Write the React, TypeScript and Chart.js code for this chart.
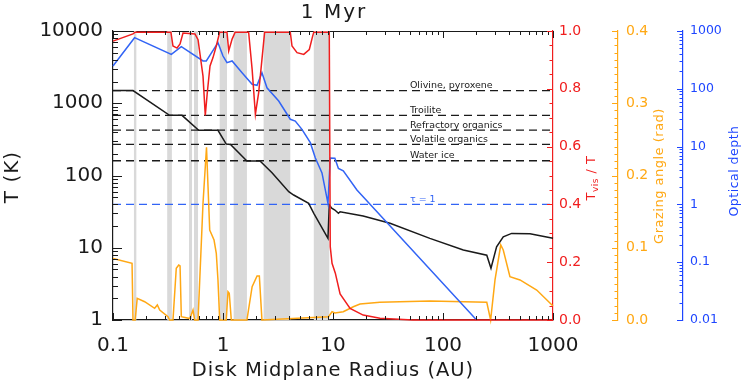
import { useEffect, useRef } from "react";
import { Chart, registerables } from "chart.js";

Chart.register(...registerables);

const FONT = "'DejaVu Sans', 'Liberation Sans', sans-serif";
const RED = "rgb(240, 30, 30)";
const ORANGE = "rgb(255, 168, 20)";
const BLUE = "rgb(50, 100, 245)";
const BLUE_AXIS = "rgb(30, 70, 255)";
const BAND = "#d9d9d9";
const INK = "#1a1a1a";

// Midplane temperature (K)
const tempRadius = [0.1, 0.152, 0.327, 0.424, 0.601, 0.9, 1.07, 1.17, 1.65, 2.17, 2.79, 3.96, 4.39, 6.01, 6.69, 9.0, 9.25, 9.73, 10.4, 11.2, 11.6, 18.8, 33, 76, 153, 250, 273, 307, 353, 421, 618, 1000];
const tempKelvin = [1500, 1500, 680, 680, 423, 423, 272, 268, 159, 159, 109, 59.7, 53.7, 41.2, 30.0, 13.5, 39.1, 35.2, 33.3, 30.0, 31.5, 27.5, 21.8, 13.5, 9.3, 7.9, 5.2, 10.3, 14.2, 15.8, 15.6, 13.5];

// Visible-to-midplane temperature ratio
const ratioRadius = [0.1, 0.152, 0.159, 0.336, 0.351, 0.382, 0.407, 0.433, 0.556, 0.593, 0.658, 0.69, 0.72, 0.762, 0.811, 0.869, 0.933, 1.087, 1.127, 1.21, 1.29, 1.71, 1.84, 1.97, 2.11, 2.26, 2.39, 4.09, 4.24, 4.71, 5.42, 6.09, 6.54, 6.69, 9.25, 9.44, 9.8, 10.5, 11.6, 14.3, 18.8, 26.7, 53, 1000];
const ratioValue = [0.965, 0.99, 0.996, 0.996, 0.948, 0.941, 0.955, 0.993, 0.99, 0.97, 0.844, 0.708, 0.787, 0.879, 0.908, 0.948, 0.996, 0.996, 0.931, 0.972, 0.996, 0.996, 0.867, 0.712, 0.787, 0.902, 0.996, 0.996, 0.948, 0.925, 0.919, 0.936, 0.983, 0.996, 0.996, 0.254, 0.196, 0.162, 0.09, 0.04, 0.017, 0.006, 0, 0];

// Grazing angle (rad)
const grazeRadius = [0.1, 0.149, 0.152, 0.159, 0.166, 0.194, 0.239, 0.253, 0.266, 0.316, 0.327, 0.351, 0.376, 0.396, 0.407, 0.418, 0.5, 0.534, 0.553, 0.593, 0.658, 0.708, 0.731, 0.757, 0.829, 0.869, 0.9, 0.933, 1.07, 1.11, 1.14, 1.19, 1.65, 1.84, 2.04, 2.14, 2.26, 9.1, 9.8, 10.4, 12.4, 15.3, 17.6, 26.7, 76, 250, 271, 297, 335, 353, 406, 501, 711, 1000];
const grazeAngle = [0.085, 0.0785, 0, 0, 0.03, 0.0253, 0.0162, 0.0208, 0.0138, 0.0046, 0, 0, 0.0716, 0.0761, 0.075, 0.0046, 0.002, 0.0138, 0, 0, 0.1615, 0.239, 0.1845, 0.1246, 0.1107, 0.0923, 0.0554, 0, 0, 0.0392, 0.037, 0, 0, 0.0461, 0.0609, 0.0609, 0, 0.0046, 0.0115, 0.0097, 0.0115, 0.0184, 0.0221, 0.0245, 0.0263, 0.0245, 0, 0.0554, 0.1038, 0.0969, 0.0599, 0.0554, 0.0415, 0.0194];

// Radial optical depth
const depthRadius = [0.1, 0.157, 0.339, 0.418, 0.658, 0.705, 0.9, 1.0, 1.087, 1.21, 1.49, 1.84, 2.04, 2.26, 2.51, 3.21, 4.09, 4.54, 5.22, 6.22, 6.9, 7.94, 9.0, 9.44, 10.4, 11.2, 12.4, 16.5, 31.8, 202];
const depthValue = [248, 766, 395, 535, 303, 303, 628, 369, 283, 303, 190, 120, 115, 190, 104, 61.5, 29.7, 27.7, 19.9, 11.7, 6.4, 3.5, 1.04, 6.35, 6.3, 4.2, 3.8, 1.78, 0.46, 0.01];

// Condensation fronts
const frontTemps = [1500, 680, 425, 270, 160];
const frontNames = ["Olivine, pyroxene", "Troilite", "Refractory organics", "Volatile organics", "Water ice"];
const frontLabelRadius = 50;

// Shaded radial bands (AU)
const bandStart = [0.155, 0.311, 0.491, 0.545, 0.933, 1.25, 2.34, 6.69];
const bandEnd = [0.163, 0.343, 0.523, 0.593, 1.087, 1.65, 4.09, 9.25];

// Axis ticks
const xTicks = [0.1, 1, 10, 100, 1000];
const xTickLabels = ["0.1", "1", "10", "100", "1000"];
const tempTicks = [1, 10, 100, 1000, 10000];
const tempTickLabels = ["1", "10", "100", "1000", "10000"];
const ratioTicks = [0, 0.2, 0.4, 0.6, 0.8, 1.0];
const ratioTickLabels = ["0.0", "0.2", "0.4", "0.6", "0.8", "1.0"];
const grazeTicks = [0, 0.1, 0.2, 0.3, 0.4];
const grazeTickLabels = ["0.0", "0.1", "0.2", "0.3", "0.4"];
const depthTicks = [0.01, 0.1, 1, 10, 100, 1000];
const depthTickLabels = ["0.01", "0.1", "1", "10", "100", "1000"];

const toPoints = (xs: number[], ys: number[]) => xs.map((x, i) => ({ x, y: ys[i] }));

const logMinor = (min: number, max: number) => {
  const out: number[] = [];
  for (let e = Math.floor(Math.log10(min)); e < Math.ceil(Math.log10(max)); e++) {
    for (let k = 2; k <= 9; k++) {
      const v = k * Math.pow(10, e);
      if (v > min && v < max) out.push(v);
    }
  }
  return out;
};
const linSteps = (min: number, max: number, step: number) => {
  const out: number[] = [];
  const n = Math.round((max - min) / step);
  for (let i = 0; i <= n; i++) out.push(min + i * step);
  return out;
};

function yTicksAt(ctx: CanvasRenderingContext2D, scale: any, values: number[], x0: number, len: number) {
  values.forEach((v) => {
    const y = Math.round(scale.getPixelForValue(v)) + 0.5;
    ctx.beginPath();
    ctx.moveTo(x0, y);
    ctx.lineTo(x0 + len, y);
    ctx.stroke();
  });
}
function xTicksAt(ctx: CanvasRenderingContext2D, scale: any, values: number[], y0: number, len: number) {
  values.forEach((v) => {
    const x = Math.round(scale.getPixelForValue(v)) + 0.5;
    ctx.beginPath();
    ctx.moveTo(x, y0);
    ctx.lineTo(x, y0 + len);
    ctx.stroke();
  });
}

type Part = { text: string; size: number; dy: number };
function verticalText(ctx: CanvasRenderingContext2D, parts: Part[], cx: number, cy: number, color: string, spacing = 0) {
  ctx.save();
  ctx.translate(cx, cy);
  ctx.rotate(-Math.PI / 2);
  ctx.fillStyle = color;
  ctx.textBaseline = "middle";
  ctx.textAlign = "left";
  (ctx as any).letterSpacing = `${spacing}px`;
  const widths = parts.map((p) => {
    ctx.font = `${p.size}px ${FONT}`;
    return ctx.measureText(p.text).width;
  });
  let x = -widths.reduce((a, b) => a + b, 0) / 2;
  parts.forEach((p, i) => {
    ctx.font = `${p.size}px ${FONT}`;
    ctx.fillText(p.text, x, p.dy);
    x += widths[i];
  });
  ctx.restore();
}

const decor = {
  id: "decor",
  beforeDraw(chart: any) {
    const { ctx, chartArea: a } = chart;
    if (!a) return;
    ctx.save();
    ctx.strokeStyle = INK;
    ctx.lineWidth = 1.2;
    ctx.beginPath();
    ctx.moveTo(a.left, Math.round(a.top) + 0.5);
    ctx.lineTo(a.right, Math.round(a.top) + 0.5);
    ctx.stroke();
    ctx.restore();
  },
  beforeDatasetsDraw(chart: any) {
    const { ctx, chartArea: a, scales } = chart;
    const { x, yT, yD } = scales;
    ctx.save();
    ctx.fillStyle = BAND;
    bandStart.forEach((s, i) => {
      const x1 = x.getPixelForValue(s);
      const x2 = x.getPixelForValue(bandEnd[i]);
      ctx.fillRect(x1, a.top, x2 - x1, a.bottom - a.top);
    });
    ctx.lineWidth = 1.3;
    ctx.setLineDash([8, 5]);
    ctx.strokeStyle = INK;
    frontTemps.forEach((t) => {
      const y = yT.getPixelForValue(t);
      ctx.beginPath();
      ctx.moveTo(a.left, y);
      ctx.lineTo(a.right, y);
      ctx.stroke();
    });
    ctx.strokeStyle = BLUE;
    const yTau = yD.getPixelForValue(1);
    ctx.beginPath();
    ctx.moveTo(a.left, yTau);
    ctx.lineTo(a.right, yTau);
    ctx.stroke();
    ctx.setLineDash([]);

    const lx = x.getPixelForValue(frontLabelRadius);
    ctx.font = `9.5px ${FONT}`;
    ctx.textAlign = "left";
    ctx.textBaseline = "alphabetic";
    ctx.fillStyle = INK;
    frontTemps.forEach((t, i) => ctx.fillText(frontNames[i], lx, yT.getPixelForValue(t) - 2.5));
    ctx.fillStyle = BLUE;
    ctx.fillText("\u03c4 = 1", lx, yTau - 2.5);
    ctx.restore();
  },
  afterDatasetsDraw(chart: any) {
    const { ctx, chartArea: a, scales } = chart;
    const { x, yT, yR, yG, yD } = scales;
    ctx.save();
    ctx.lineWidth = 1;
    // frame ticks, pointing into the plot
    ctx.strokeStyle = INK;
    yTicksAt(ctx, yT, tempTicks, a.left, 9);
    yTicksAt(ctx, yT, logMinor(1, 10000), a.left, 5);
    xTicksAt(ctx, x, xTicks, a.bottom, -7);
    xTicksAt(ctx, x, logMinor(0.1, 1000), a.bottom, -4);
    xTicksAt(ctx, x, xTicks, a.top, 7);
    xTicksAt(ctx, x, logMinor(0.1, 1000), a.top, 4);
    // coloured axes
    ctx.strokeStyle = RED;
    yTicksAt(ctx, yR, ratioTicks, yR.left, -6);
    yTicksAt(ctx, yR, linSteps(0, 1, 0.05), yR.left, -3.5);
    ctx.strokeStyle = ORANGE;
    yTicksAt(ctx, yG, grazeTicks, yG.left, -6);
    yTicksAt(ctx, yG, linSteps(0, 0.4, 0.01), yG.left, -3.5);
    ctx.strokeStyle = BLUE_AXIS;
    yTicksAt(ctx, yD, depthTicks, yD.left, -6);
    yTicksAt(ctx, yD, logMinor(0.01, 1000), yD.left, -3.5);
    ctx.restore();
  },
  afterDraw(chart: any) {
    const { ctx, chartArea: a } = chart;
    ctx.save();
    ctx.fillStyle = INK;
    ctx.textAlign = "center";
    ctx.textBaseline = "middle";
    (ctx as any).letterSpacing = "2px";
    ctx.font = `20px ${FONT}`;
    ctx.fillText("1 Myr", (a.left + a.right) / 2 + 1, 13);
    (ctx as any).letterSpacing = "1px";
    ctx.font = `19.5px ${FONT}`;
    ctx.fillText("Disk Midplane Radius (AU)", (a.left + a.right) / 2, 371);
    ctx.restore();
    verticalText(ctx, [{ text: "T (K)", size: 20, dy: 0 }], 13, 177, INK, 1);
    verticalText(
      ctx,
      [
        { text: "T", size: 13, dy: 0 },
        { text: "vis", size: 9, dy: 4 },
        { text: " / T", size: 13, dy: 0 },
      ],
      592,
      178,
      RED,
      0.5
    );
    verticalText(ctx, [{ text: "Grazing angle (rad)", size: 13, dy: 0 }], 660, 176, ORANGE, 0.5);
    verticalText(ctx, [{ text: "Optical depth", size: 12.5, dy: 0 }], 735, 171, BLUE_AXIS, 0.5);
  },
};

const fixedTicks = (values: number[]) => (scale: any) => {
  scale.ticks = values.map((v) => ({ value: v }));
};
const labelFrom = (values: number[], labels: string[]) => (v: any) => {
  const i = values.findIndex((t) => Math.abs(t - Number(v)) < 1e-9 * Math.max(1, Math.abs(t)));
  return i >= 0 ? labels[i] : "";
};
const axisGrid = { display: true, drawOnChartArea: false, drawTicks: false };

export default function App() {
  const ref = useRef<HTMLCanvasElement | null>(null);

  useEffect(() => {
    if (!ref.current) return;
    Chart.defaults.font.family = FONT;
    const line = (data: any, color: string, yAxisID: string, order: number) => ({
      data,
      yAxisID,
      borderColor: color,
      backgroundColor: color,
      borderWidth: 1.5,
      pointRadius: 0,
      tension: 0,
      fill: false,
      clip: false,
      order,
    });
    const chart = new Chart(ref.current, {
      type: "line",
      data: {
        datasets: [
          line(toPoints(tempRadius, tempKelvin), INK, "yT", 4),
          line(toPoints(grazeRadius, grazeAngle), ORANGE, "yG", 3),
          line(toPoints(depthRadius, depthValue), BLUE, "yD", 2),
          line(toPoints(ratioRadius, ratioValue), RED, "yR", 1),
        ],
      },
      options: {
        animation: false,
        responsive: false,
        events: [],
        layout: { padding: { top: 31, left: 0, right: 0, bottom: 0 } },
        plugins: { legend: { display: false }, tooltip: { enabled: false }, title: { display: false } },
        scales: {
          x: {
            type: "logarithmic",
            min: 0.1,
            max: 1000,
            position: "bottom",
            afterBuildTicks: fixedTicks(xTicks),
            afterFit: (s: any) => { s.height = 64; },
            grid: axisGrid,
            border: { color: INK, width: 1.2 },
            ticks: { color: INK, font: { size: 20 }, padding: 14, maxRotation: 0, autoSkip: false, callback: labelFrom(xTicks, xTickLabels) },
          },
          yT: {
            type: "logarithmic",
            min: 1,
            max: 10000,
            position: "left",
            afterBuildTicks: fixedTicks(tempTicks),
            afterFit: (s: any) => { s.width = 113; },
            grid: axisGrid,
            border: { color: INK, width: 1.2 },
            ticks: { color: INK, font: { size: 20 }, padding: 10, autoSkip: false, callback: labelFrom(tempTicks, tempTickLabels) },
          },
          yR: {
            type: "linear",
            min: 0,
            max: 1,
            position: "right",
            weight: 0,
            afterBuildTicks: fixedTicks(ratioTicks),
            afterFit: (s: any) => { s.width = 65; },
            grid: axisGrid,
            border: { color: RED, width: 1.2 },
            ticks: { color: RED, font: { size: 14 }, padding: 6, autoSkip: false, callback: labelFrom(ratioTicks, ratioTickLabels) },
          },
          yG: {
            type: "linear",
            min: 0,
            max: 0.4,
            position: "right",
            weight: 1,
            afterBuildTicks: fixedTicks(grazeTicks),
            afterFit: (s: any) => { s.width = 65; },
            grid: axisGrid,
            border: { color: ORANGE, width: 1.2 },
            ticks: { color: ORANGE, font: { size: 14 }, padding: 8, autoSkip: false, callback: labelFrom(grazeTicks, grazeTickLabels) },
          },
          yD: {
            type: "logarithmic",
            min: 0.01,
            max: 1000,
            position: "right",
            weight: 2,
            afterBuildTicks: fixedTicks(depthTicks),
            afterFit: (s: any) => { s.width = 59; },
            grid: axisGrid,
            border: { color: BLUE_AXIS, width: 1.2 },
            ticks: { color: BLUE_AXIS, font: { size: 12.5 }, padding: 7, autoSkip: false, callback: labelFrom(depthTicks, depthTickLabels) },
          },
        },
      },
      plugins: [decor],
    } as any);
    return () => chart.destroy();
  }, []);

  return (
    <div style={{ position: "fixed", left: 0, top: 0, width: 742, height: 384, background: "#fff" }}>
      <canvas ref={ref} width={742} height={384} />
    </div>
  );
}
